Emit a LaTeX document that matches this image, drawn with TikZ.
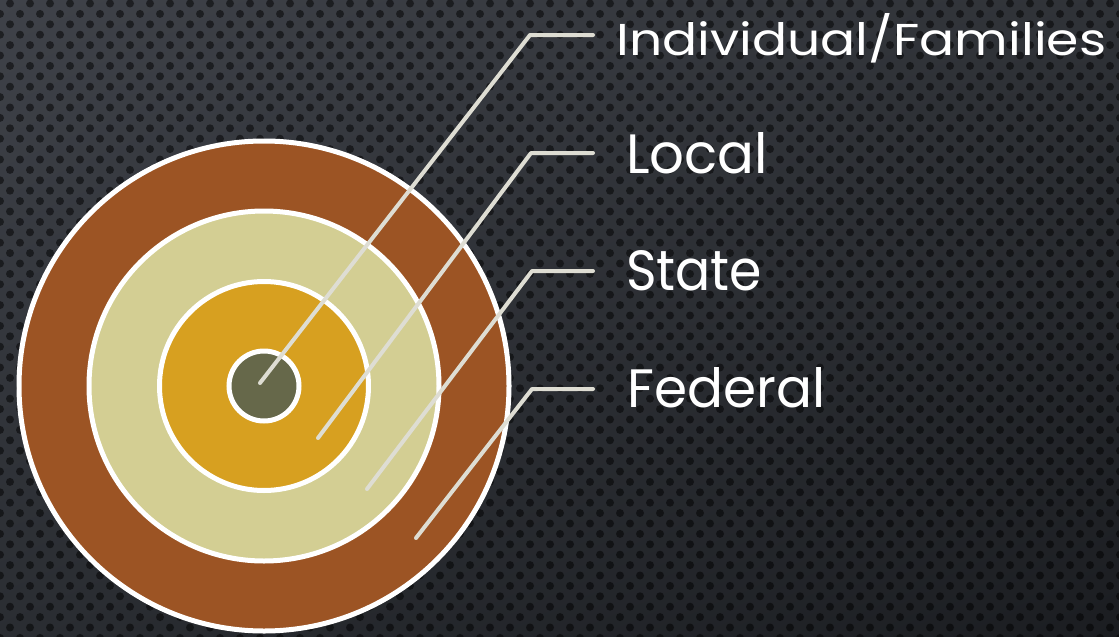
\documentclass[tikz,border=0pt]{standalone}
\usepackage{fontspec}
\setmainfont{Poppins}
\usetikzlibrary{shadings}
\definecolor{bgA}{HTML}{3F4249}
\definecolor{bgB}{HTML}{2F3237}
\definecolor{bgC}{HTML}{2A2D32}
\definecolor{bgD}{HTML}{1B1D21}
\definecolor{brownc}{HTML}{9C5424}
\definecolor{khakic}{HTML}{D3CE93}
\definecolor{goldc}{HTML}{D7A020}
\definecolor{olivec}{HTML}{66684A}
\definecolor{leadc}{HTML}{DEDDD3}
\begin{document}
\begin{tikzpicture}[x=1pt,y=-1pt,
  ring/.style={circle, draw=white, line width=5pt, inner sep=0pt},
  leader/.style={draw=leadc, line width=4pt, line cap=round, line join=round},
  lab/.style={anchor=base west, inner sep=0pt, text=white}]
\useasboundingbox (0,0) rectangle (1119,637);
\shade[upper left=bgA, upper right=bgB, lower left=bgC, lower right=bgD] (0,0) rectangle (1119,637);
% perforated dot pattern
\foreach \r in {0,...,61}{
  \pgfmathsetmacro{\yy}{3.5+\r*10.4}
  \pgfmathsetmacro{\oo}{10*(1-mod(\r,2))}
  \fill[black, fill opacity=0.5] foreach \c in {0,...,56} { ({\c*20+\oo},\yy) circle (4) };
}
% concentric rings
\node[ring, fill=brownc, minimum size=490pt] (fed) at (264,386) {};
\node[ring, fill=khakic, minimum size=350pt] (sta) at (264,386) {};
\node[ring, fill=goldc, minimum size=209pt] (loc) at (264,386) {};
\node[ring, fill=olivec, minimum size=70pt] (ind) at (264,386) {};
% leader points
\coordinate (pI) at (260,383);
\coordinate (kI) at (530,35);
\coordinate (eI) at (593,35);
\coordinate (pL) at (318,438);
\coordinate (kL) at (531,153);
\coordinate (eL) at (593,153);
\coordinate (pS) at (367,489);
\coordinate (kS) at (532,271);
\coordinate (eS) at (593,271);
\coordinate (pF) at (416,538);
\coordinate (kF) at (532,389);
\coordinate (eF) at (593,389);
\draw[leader] (pI) -- (kI) -- (eI);
\draw[leader] (pL) -- (kL) -- (eL);
\draw[leader] (pS) -- (kS) -- (eS);
\draw[leader] (pF) -- (kF) -- (eF);
% labels
\node[lab] (tI) at (616,55) {\resizebox{490pt}{42pt}{\fontsize{58}{62}\selectfont Individual/Families}};
\node[lab] (tL) at (626,173) {\resizebox{142pt}{41pt}{\fontsize{58}{62}\selectfont Local}};
\node[lab] (tS) at (626,290) {\resizebox{136pt}{40pt}{\fontsize{58}{62}\selectfont State}};
\node[lab] (tF) at (627,407) {\resizebox{198pt}{40pt}{\fontsize{58}{62}\selectfont Federal}};
\end{tikzpicture}
\end{document}
